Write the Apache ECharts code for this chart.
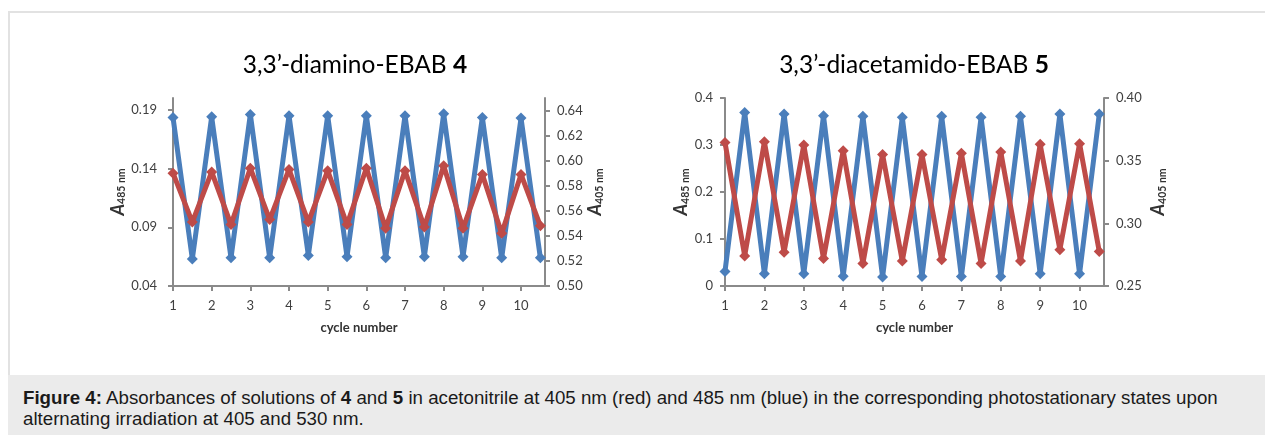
<!DOCTYPE html>
<html>
<head>
<meta charset="utf-8">
<script src="https://cdn.jsdelivr.net/npm/echarts@6/dist/echarts.min.js"></script>
<style>
body{margin:0;width:1265px;height:435px;background:#fff;overflow:hidden;position:relative}
#frame{position:absolute;left:8px;top:11px;width:1270px;height:380px;border-top:2px solid #e2e2e2;border-left:2px solid #e2e2e2}
#chart{position:absolute;left:0;top:0;width:1265px;height:375px}
#caption{position:absolute;left:8px;top:375px;width:1257px;height:60px;background:#ebebeb;
  font-family:"Liberation Sans",Arial,sans-serif;font-size:18.7px;line-height:21px;color:#1a1a1a;box-sizing:border-box;padding:12px 0 0 15px;white-space:nowrap}
</style>
</head>
<body>
<div id="frame"></div>
<div id="chart"></div>
<div id="caption"><b>Figure 4:</b> Absorbances of solutions of <b>4</b> and <b>5</b> in acetonitrile at 405 nm (red) and 485 nm (blue) in the corresponding photostationary states upon<br>alternating irradiation at 405 and 530 nm.</div>
<script>
// 循环序号（每半个循环切换一次照射波长）
var cycles = [1, 1.5, 2, 2.5, 3, 3.5, 4, 4.5, 5, 5.5, 6, 6.5, 7, 7.5, 8, 8.5, 9, 9.5, 10, 10.5]

// 化合物 4
var a485_4 = [0.1835, 0.063, 0.184, 0.064, 0.186, 0.064, 0.185, 0.066, 0.185, 0.065,
              0.185, 0.064, 0.185, 0.065, 0.1865, 0.065, 0.1835, 0.064, 0.183, 0.064]
var a405_4 = [0.590, 0.551, 0.591, 0.549, 0.594, 0.553, 0.593, 0.551, 0.592, 0.549,
              0.594, 0.546, 0.592, 0.547, 0.596, 0.546, 0.589, 0.542, 0.589, 0.548]

// 化合物 5
var a485_5 = [0.031, 0.369, 0.026, 0.366, 0.026, 0.362, 0.021, 0.361, 0.019, 0.359,
              0.020, 0.361, 0.020, 0.359, 0.020, 0.361, 0.026, 0.366, 0.026, 0.366]
var a405_5 = [0.3645, 0.274, 0.365, 0.277, 0.3625, 0.272, 0.358, 0.268, 0.355, 0.270,
              0.355, 0.271, 0.356, 0.268, 0.357, 0.270, 0.363, 0.279, 0.3635, 0.2775]

// 刻度
var xTicks = [1, 2, 3, 4, 5, 6, 7, 8, 9, 10]
var yTicksL4 = [0.04, 0.09, 0.14, 0.19]
var yTicksR4 = [0.50, 0.52, 0.54, 0.56, 0.58, 0.60, 0.62, 0.64]
var yTicksL5 = [0, 0.1, 0.2, 0.3, 0.4]
var yTicksR5 = [0.25, 0.30, 0.35, 0.40]

var FONT = 'Lato'
var AXIS_COLOR = '#8a8a8a'
var LABEL_COLOR = '#3f3f3f'
var BLUE = '#4a7ebb'
var RED = '#be4b48'

function pair(xs, ys) {
    return xs.map(function (x, i) { return [x, ys[i]] })
}

function xAxisOf(grid) {
    return {
        type: 'value', gridIndex: grid, min: 1, max: 10.62,
        axisLine: {lineStyle: {color: AXIS_COLOR, width: 2}},
        axisTick: {customValues: xTicks, length: 5, lineStyle: {color: AXIS_COLOR, width: 2}},
        axisLabel: {customValues: xTicks, color: LABEL_COLOR, fontFamily: FONT, fontSize: 13, margin: 13},
        splitLine: {show: false},
        name: 'cycle number', nameLocation: 'middle', nameGap: 35,
        nameTextStyle: {fontFamily: FONT, fontSize: 13, fontWeight: 'bold', color: '#333'}
    }
}

function yAxisOf(grid, pos, min, max, ticks, digits, label, gap, margin) {
    return {
        type: 'value', gridIndex: grid, position: pos, min: min, max: max,
        axisLine: {show: true, lineStyle: {color: AXIS_COLOR, width: 2}},
        axisTick: {show: true, customValues: ticks, length: 5, lineStyle: {color: AXIS_COLOR, width: 2}},
        axisLabel: {
            customValues: ticks, color: LABEL_COLOR, fontFamily: FONT, fontSize: 13, margin: margin,
            formatter: function (v) { return v === 0 ? '0' : v.toFixed(digits) }
        },
        splitLine: {show: false},
        name: '{a|A}{s|' + label + ' nm}', nameLocation: 'middle', nameRotate: 90, nameGap: gap,
        nameTextStyle: {
            rich: {
                a: {fontFamily: FONT, fontSize: 18, fontWeight: 'bold', fontStyle: 'italic', color: '#333', lineHeight: 19},
                s: {fontFamily: FONT, fontSize: 10.5, fontWeight: 'bold', color: '#333', lineHeight: 12, verticalAlign: 'bottom'}
            }
        }
    }
}

function lineOf(name, x, y, data, color) {
    return {
        name: name, type: 'line', xAxisIndex: x, yAxisIndex: y, data: data,
        symbol: 'diamond', symbolSize: 11, showSymbol: true,
        lineStyle: {color: color, width: 5},
        itemStyle: {color: color},
        emphasis: {disabled: true}
    }
}

function titleOf(x, text, num) {
    return {
        type: 'text', x: x, y: 65,
        style: {
            text: '{n|' + text + ' }{b|' + num + '}',
            align: 'center', verticalAlign: 'middle',
            rich: {
                n: {fontFamily: FONT, fontSize: 24.5, color: '#222'},
                b: {fontFamily: FONT, fontSize: 24.5, fontWeight: 'bold', color: '#222'}
            }
        }
    }
}

var chart = echarts.init(document.getElementById('chart'))
chart.setOption({
    animation: false,
    grid: [
        {left: 173, top: 98, width: 372, height: 188},
        {left: 725, top: 98, width: 379, height: 188}
    ],
    xAxis: [xAxisOf(0), xAxisOf(1)],
    yAxis: [
        yAxisOf(0, 'left', 0.04, 0.2, yTicksL4, 2, '485', 43, 16),
        yAxisOf(0, 'right', 0.5, 0.65, yTicksR4, 2, '405', 36, 12),
        yAxisOf(1, 'left', 0, 0.4, yTicksL5, 1, '485', 34, 12),
        yAxisOf(1, 'right', 0.25, 0.4, yTicksR5, 2, '405', 45, 12)
    ],
    graphic: [
        titleOf(355, '3,3’-diamino-EBAB', '4'),
        titleOf(914, '3,3’-diacetamido-EBAB', '5')
    ],
    series: [
        lineOf('A485 (4)', 0, 0, pair(cycles, a485_4), BLUE),
        lineOf('A405 (4)', 0, 1, pair(cycles, a405_4), RED),
        lineOf('A485 (5)', 1, 2, pair(cycles, a485_5), BLUE),
        lineOf('A405 (5)', 1, 3, pair(cycles, a405_5), RED)
    ]
})
</script>
</body>
</html>
